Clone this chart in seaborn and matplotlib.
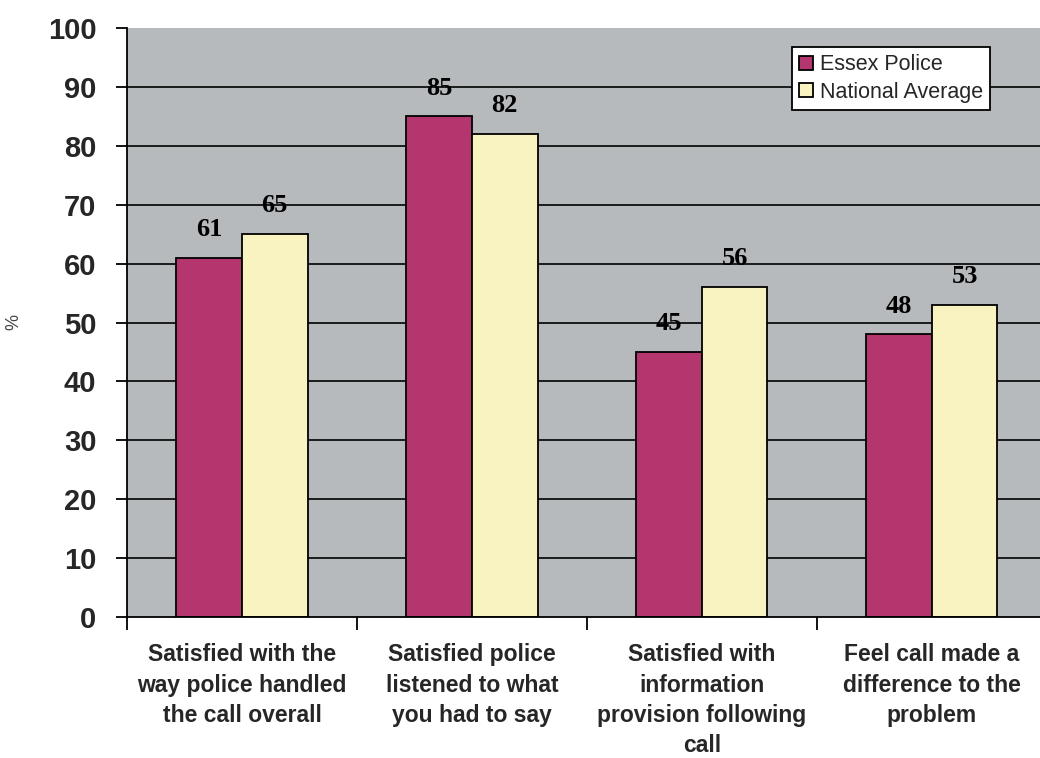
import pandas as pd
import matplotlib
matplotlib.use("Agg")
import matplotlib.pyplot as plt
import seaborn as sns

categories = [
    "Satisfied with the\nway police handled\nthe call overall",
    "Satisfied police\nlistened to what\nyou had to say",
    "Satisfied with\ninformation\nprovision following\ncall",
    "Feel call made a\ndifference to the\nproblem",
]
series = ["Essex Police", "National Average"]
essex = [61, 85, 45, 48]
national = [65, 82, 56, 53]
y_ticks = [0, 10, 20, 30, 40, 50, 60, 70, 80, 90, 100]

data = pd.DataFrame({
    "category": categories * 2,
    "group": [series[0]] * len(essex) + [series[1]] * len(national),
    "value": essex + national,
})

sns.set_style("ticks")
plt.rcParams["font.family"] = ["Liberation Sans", "DejaVu Sans"]

fig = plt.figure(figsize=(10.4, 7.58), dpi=100)
ax = fig.add_axes([127 / 1040, 1 - 617 / 758, 913 / 1040, 589 / 758])
ax.set_facecolor("#b6babd")

sns.barplot(data=data, x="category", y="value", hue="group", order=categories,
            hue_order=series, palette=["#b3366e", "#f9f3c1"], width=0.57,
            edgecolor="black", linewidth=1.3, saturation=1, ax=ax, zorder=3)

# gridlines 10..90 only
for v in y_ticks[1:-1]:
    ax.axhline(v, color="black", lw=1.2, zorder=1)

for cont in ax.containers:
    ax.bar_label(cont, padding=12, fontsize=19, fontweight="bold",
                 fontfamily="Liberation Serif", color="black")

ax.set_ylim(0, 100)
ax.set_xlim(-0.5, 3.47)
ax.set_yticks(y_ticks)
ax.set_yticklabels([str(t) for t in y_ticks], fontsize=21, fontweight="bold")
ax.tick_params(axis="y", length=8, width=1.3, pad=14, color="black")

ax.set_xticks(range(len(categories)))
ax.set_xticklabels(categories, fontsize=16.5, fontweight="bold", linespacing=1.4)
ax.tick_params(axis="x", which="major", length=0, pad=19)
ax.set_xticks([-0.5, 0.5, 1.5, 2.5], minor=True)
ax.tick_params(axis="x", which="minor", length=9, width=1.3, color="black")

ax.set_xlabel("")
ax.set_ylabel("%", fontsize=13, color="#444444")
ax.yaxis.set_label_coords(-0.115, 0.5)

for s in ["top", "right"]:
    ax.spines[s].set_visible(False)
for s in ["left", "bottom"]:
    ax.spines[s].set_color("black")
    ax.spines[s].set_linewidth(1.3)
    ax.spines[s].set_zorder(4)

handles, labels = ax.get_legend_handles_labels()
leg = ax.legend(handles, labels, loc="upper left", bbox_to_anchor=(0.728, 0.968),
                fontsize=15.5, frameon=True, fancybox=False, framealpha=1,
                facecolor="white", edgecolor="black", handlelength=0.65,
                handleheight=0.65, handletextpad=0.3, borderpad=0.35,
                labelspacing=0.3, borderaxespad=0)
leg.get_frame().set_linewidth(1.3)
leg.set_zorder(5)

fig.savefig("out.png", dpi=100)
